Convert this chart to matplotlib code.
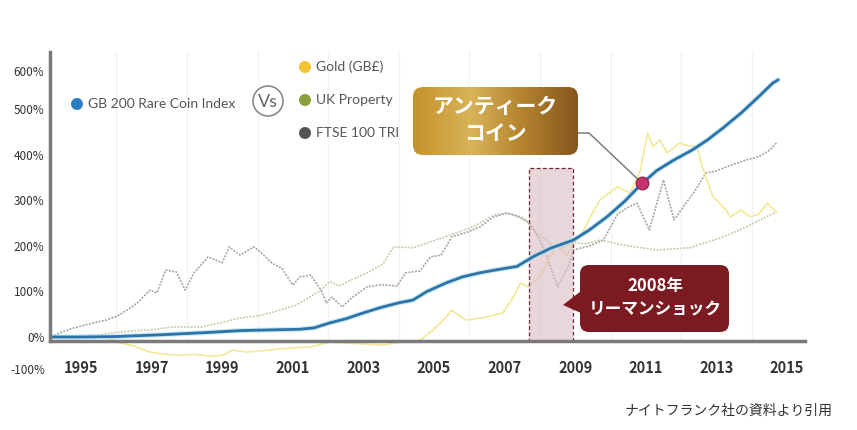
import numpy as np
import matplotlib
matplotlib.use('Agg')
import matplotlib.pyplot as plt
from matplotlib.patches import FancyBboxPatch, Circle, Polygon, Rectangle
from matplotlib.colors import LinearSegmentedColormap
import matplotlib.transforms as mtransforms

plt.rcParams['font.family'] = ['Noto Sans CJK JP', 'DejaVu Sans']

# ---------------- data ----------------
coin_years = [1994.15, 1995.0, 1996.0, 1997.3, 1998.6, 1999.5, 2000.6, 2001.2, 2001.6, 2002.05,
              2002.5, 2003.0, 2003.5, 2004.0, 2004.4, 2004.8, 2005.35, 2005.8, 2006.3, 2006.8,
              2007.35, 2007.8, 2008.3, 2008.95, 2009.4, 2009.9, 2010.4, 2010.85, 2011.3, 2011.8,
              2012.3, 2012.75, 2013.2, 2013.7, 2014.2, 2014.6, 2014.75]
coin_vals = [0, 0, 1, 5, 10, 14, 16, 17, 20, 31,
             40, 53, 65, 75, 81, 100, 119, 132, 141, 148,
             155, 176, 195, 213, 235, 264, 298, 334, 365, 389,
             410, 433, 460, 492, 528, 558, 565]

gold_years = [1994.15, 1994.6, 1995.05, 1995.7, 1996.1, 1996.5, 1996.95, 1997.4, 1997.8, 1998.2,
              1998.65, 1999.0, 1999.3, 1999.7, 2000.3, 2000.6, 2001.0, 2001.5, 2002.05, 2002.6,
              2003.0, 2003.5, 2003.95, 2004.6, 2004.97, 2005.35, 2005.5, 2005.9, 2006.5, 2006.95,
              2007.25, 2007.45, 2007.65, 2008.0, 2008.2, 2008.5, 2008.75, 2008.95, 2009.15, 2009.4,
              2009.7, 2010.2, 2010.55, 2010.85, 2011.05, 2011.2, 2011.4, 2011.6, 2011.95, 2012.2,
              2012.45, 2012.6, 2012.9, 2013.2, 2013.4, 2013.7, 2013.95, 2014.2, 2014.45, 2014.7]
gold_vals = [0, 2, 0, 0, -13, -20, -33, -38, -40, -38,
             -42, -40, -29, -33, -29, -26, -24, -22, -11, -14,
             -15, -18, -13, -7, 15, 44, 59, 37, 44, 53,
             88, 119, 110, 132, 163, 207, 176, 207, 220, 260,
             301, 330, 316, 367, 448, 418, 433, 404, 426, 420,
             418, 374, 308, 286, 264, 279, 264, 270, 294, 273]

prop_years = [1994.15, 1995.0, 1995.5, 1996.1, 1996.6, 1997.0, 1997.6, 1998.4, 1999.0, 1999.5,
              2000.0, 2000.45, 2001.1, 2001.8, 2002.05, 2002.3, 2003.1, 2003.55, 2003.85, 2004.4,
              2004.9, 2005.5, 2006.1, 2006.7, 2007.15, 2007.6, 2007.9, 2008.3, 2008.6, 2008.95,
              2009.3, 2009.7, 2010.35, 2011.3, 2012.25, 2013.2, 2013.85, 2014.7]
prop_vals = [0, 3, 5, 11, 14, 16, 22, 22, 32, 42,
             46, 55, 70, 103, 122, 112, 141, 160, 198, 196,
             209, 225, 242, 268, 272, 255, 229, 205, 195, 207,
             205, 213, 202, 191, 196, 220, 242, 275]

ftse_years = [1994.15, 1994.5, 1994.8, 1995.2, 1995.7, 1996.0, 1996.3, 1996.6, 1996.95, 1997.15,
              1997.4, 1997.7, 1997.95, 1998.2, 1998.6, 1999.0, 1999.2, 1999.5, 1999.9, 2000.1,
              2000.4, 2000.7, 2001.0, 2001.2, 2001.5, 2001.8, 2001.95, 2002.1, 2002.4, 2002.7,
              2003.1, 2003.5, 2003.95, 2004.2, 2004.6, 2004.9, 2005.2, 2005.5, 2005.9, 2006.3,
              2006.7, 2007.05, 2007.45, 2007.7, 2008.0, 2008.2, 2008.4, 2008.5, 2008.8, 2008.95,
              2009.4, 2009.8, 2010.2, 2010.5, 2010.75, 2011.1, 2011.5, 2011.8, 2012.1, 2012.35,
              2012.7, 2013.0, 2013.3, 2013.85, 2014.2, 2014.5, 2014.7]
ftse_vals = [0, 12, 20, 28, 37, 45, 59, 75, 103, 97,
             147, 143, 103, 141, 176, 163, 198, 180, 198, 185,
             163, 150, 114, 132, 136, 103, 75, 88, 66, 88,
             110, 115, 112, 141, 145, 176, 180, 220, 229, 242,
             264, 272, 264, 251, 213, 176, 132, 110, 154, 191,
             200, 213, 270, 285, 294, 235, 345, 257, 290, 316,
             360, 365, 374, 389, 396, 410, 426]

year_ticks = [1995, 1997, 1999, 2001, 2003, 2005, 2007, 2009, 2011, 2013, 2015]
pct_ticks = [0, 100, 200, 300, 400, 500, 585]
pct_labels = ['0%', '100%', '200%', '300%', '400%', '500%', '600%']
crisis_span = (2007.7, 2008.94)
crisis_top = 371
dot_year = 2010.9

legend_main = 'GB 200 Rare Coin Index'
legend_others = ['Gold (GB£)', 'UK Property', 'FTSE 100 TRI']
legend_colors = ['#f2c431', '#8aa03f', '#555555']

# ---------------- figure ----------------
W, H = 857, 430
fig = plt.figure(figsize=(W / 100, H / 100), dpi=100)
fig.patch.set_facecolor('white')
px = mtransforms.Affine2D().scale(1 / W, -1 / H).translate(0, 1) + fig.transFigure

ax = fig.add_axes([50 / W, 1 - 341 / H, 755 / W, 289 / H])
ax.set_xlim(1994.12, 2015.51)
ax.set_ylim(-8.8, 626)
ax.set_facecolor('none')

for s in ['top', 'right']:
    ax.spines[s].set_visible(False)
for s in ['left', 'bottom']:
    ax.spines[s].set_color('#7a7a7a')
    ax.spines[s].set_linewidth(2.5)
    ax.spines[s].set_zorder(6)

# faint vertical grid
for yr in range(1996, 2016, 2):
    ax.axvline(yr, color='#f3f3f3', lw=1.0, zorder=0)

ax.set_xticks(year_ticks)
ax.set_xticklabels([str(y) for y in year_ticks], fontweight='bold')
ax.tick_params(axis='x', length=0, pad=14, labelsize=10.5, labelcolor='#333333')
ax.set_yticks(pct_ticks)
ax.set_yticklabels(pct_labels)
ax.tick_params(axis='y', length=0, pad=4, labelsize=8.5, labelcolor='#333333')
fig.text(45, 370, '-100%', transform=px, ha='right', va='center', fontsize=8.5, color='#333333')

# series
ax.plot(prop_years, prop_vals, color='#c9cab0', lw=1.2, ls=(0, (1.2, 0.8)), zorder=2, clip_on=False)
ax.plot(ftse_years, ftse_vals, color='#a6a6a6', lw=1.2, ls=(0, (1.2, 0.8)), zorder=2, clip_on=False)
ax.plot(gold_years, gold_vals, color='#f3e896', lw=1.2, zorder=2, clip_on=False)

# crisis box
rect = Rectangle((crisis_span[0], ax.get_ylim()[0]), crisis_span[1] - crisis_span[0],
                 crisis_top - ax.get_ylim()[0], facecolor='#d9bcc3', alpha=0.6,
                 edgecolor='none', zorder=3)
ax.add_patch(rect)
rect2 = Rectangle((crisis_span[0], ax.get_ylim()[0]), crisis_span[1] - crisis_span[0],
                  crisis_top - ax.get_ylim()[0], facecolor='none',
                  edgecolor='#6b2a35', lw=0.9, ls=(0, (3, 2)), zorder=3.5)
ax.add_patch(rect2)

ax.plot(coin_years, coin_vals, color='#b3e1f4', lw=3.6, alpha=0.7, zorder=4, solid_capstyle='round')
ax.plot(coin_years, coin_vals, color='#2d73a8', lw=2.0, zorder=4.5, solid_capstyle='round')

dot_val = np.interp(dot_year, coin_years, coin_vals)

# connector from gold box to dot
p = ax.transData.inverted().transform(px.transform([(578, 133), (589, 133)]))
ax.plot([p[0][0], p[1][0], dot_year], [p[0][1], p[1][1], dot_val], color='#7d7d7d', lw=1.1,
        zorder=5, clip_on=False)
ax.scatter([dot_year], [dot_val], s=85, color='#c8306c', edgecolor='#8a1f47', lw=0.8, zorder=7)

# ---------------- gold gradient callout ----------------
bx0, by0, bw, bh = 413, 87, 165, 68
gax = fig.add_axes([bx0 / W, 1 - (by0 + bh) / H, bw / W, bh / H])
gax.set_xlim(0, 1)
gax.set_ylim(0, 1)
gax.axis('off')
cmap = LinearSegmentedColormap.from_list('gold', [(0, '#c4922b'), (0.35, '#d8b459'),
                                                  (0.65, '#b58530'), (1.0, '#87561f')])
grad = np.linspace(0, 1, 256).reshape(1, -1)
im = gax.imshow(grad, cmap=cmap, extent=[0, 1, 0, 1], aspect='auto', zorder=1)
clip = FancyBboxPatch((0, 0), 1, 1, boxstyle='round,pad=0,rounding_size=%f' % (10 / bw),
                      mutation_aspect=bw / bh, transform=gax.transAxes, facecolor='none',
                      edgecolor='none')
gax.add_patch(clip)
im.set_clip_path(clip)
gax.text(0.5, 0.72, 'アンティーク', ha='center', va='center', color='white', fontsize=15,
         fontweight='bold', transform=gax.transAxes, zorder=3)
gax.text(0.5, 0.32, 'コイン', ha='center', va='center', color='white', fontsize=15,
         fontweight='bold', transform=gax.transAxes, zorder=3)

# ---------------- red callout ----------------
red = '#7b1a20'
rbox = FancyBboxPatch((580, 265), 149, 67, boxstyle='round,pad=0,rounding_size=9',
                      transform=px, facecolor=red, edgecolor='none', zorder=10)
fig.add_artist(rbox)
tri = Polygon([(581, 291), (563, 305), (581, 313)], closed=True, transform=px,
              facecolor=red, edgecolor='none', zorder=10)
fig.add_artist(tri)
fig.text(655, 286, '2008年', transform=px, ha='center', va='center', color='white',
         fontsize=12, fontweight='bold', zorder=11)
fig.text(655, 309, 'リーマンショック', transform=px, ha='center', va='center', color='white',
         fontsize=12, fontweight='bold', zorder=11)

# ---------------- legend ----------------
fig.add_artist(Circle((77, 104), 6, transform=px, facecolor='#2e7fc1', edgecolor='none'))
fig.text(88, 104, legend_main, transform=px, ha='left', va='center', fontsize=10,
         color='#555555', family=['Lato', 'DejaVu Sans'])
fig.add_artist(Circle((268, 101), 15, transform=px, facecolor='white', edgecolor='#8a8a8a', lw=1.2))
fig.text(268, 102, 'Vs', transform=px, ha='center', va='center', fontsize=13,
         color='#666666', family=['Lato', 'DejaVu Sans'])
for i, (lab, col) in enumerate(zip(legend_others, legend_colors)):
    yy = 67 + i * 33
    fig.add_artist(Circle((305, yy), 6, transform=px, facecolor=col, edgecolor='none'))
    fig.text(316, yy, lab, transform=px, ha='left', va='center', fontsize=10,
             color='#555555', family=['Lato', 'DejaVu Sans'])

# credit
fig.text(833, 411, 'ナイトフランク社の資料より引用', transform=px, ha='right', va='center',
         fontsize=10, color='#333333')

fig.savefig('out.png', dpi=100, facecolor='white')
